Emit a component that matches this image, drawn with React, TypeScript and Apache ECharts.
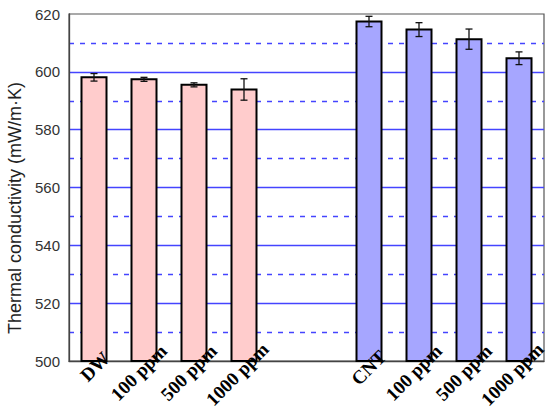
import React, { useEffect, useRef } from "react";
import * as echarts from "echarts";

const dwLabels = ["DW", "100 ppm", "500 ppm", "1000 ppm"];
const dwMeans = [598.1, 597.4, 595.5, 593.9];
const dwErrors = [1.3, 0.7, 0.7, 3.7];

const cntLabels = ["CNT", "100 ppm", "500 ppm", "1000 ppm"];
const cntMeans = [617.4, 614.6, 611.3, 604.7];
const cntErrors = [1.8, 2.4, 3.5, 2.2];

const yMin = 500;
const yMax = 620;
const yStep = 20;
const yTitle = "Thermal conductivity (mW/m·K)";

const groupColors = ["#ffcccc", "#a6a6ff"];
const labelFont = 'bold 19px "Liberation Serif", "Times New Roman", serif';

export default function App() {
  const ref = useRef<HTMLDivElement>(null);
  useEffect(() => {
    if (!ref.current) return;
    const chart = echarts.init(ref.current, null, { renderer: "svg" });
    const labels = [...dwLabels, ...cntLabels];
    const data: number[][] = [];
    dwMeans.forEach((m, i) => data.push([i + 1, m, dwErrors[i], 0]));
    cntMeans.forEach((m, i) => data.push([i + 6.5, m, cntErrors[i], 1]));

    const titleGraphic = {
      type: "text",
      x: 15,
      y: 208,
      rotation: Math.PI / 2,
      style: {
        text: yTitle,
        textAlign: "center",
        textVerticalAlign: "middle",
        fontSize: 18,
        fontFamily: "Liberation Sans, Arial, sans-serif",
        fill: "#222",
      },
    };

    const option: any = {
      animation: false,
      grid: {
        left: 69,
        right: 6,
        top: 14,
        bottom: 51,
        show: true,
        borderColor: "#555",
        borderWidth: 1.2,
      },
      xAxis: {
        type: "value",
        min: 0.5,
        max: 10,
        axisLine: { show: true, onZero: false, lineStyle: { color: "#444", width: 1.3 } },
        axisTick: { show: false },
        axisLabel: { show: false },
        splitLine: { show: false },
      },
      yAxis: {
        type: "value",
        min: yMin,
        max: yMax,
        interval: yStep,
        axisLine: { show: true, lineStyle: { color: "#444", width: 1.3 } },
        axisTick: { show: false },
        axisLabel: {
          color: "#333",
          fontSize: 15,
          fontFamily: "Liberation Sans, Arial, sans-serif",
          margin: 9,
        },
        splitLine: {
          show: true,
          showMinLine: false,
          showMaxLine: false,
          lineStyle: { color: "#4444ff", width: 1.3 },
        },
        minorTick: { show: false, splitNumber: 2 },
        minorSplitLine: {
          show: true,
          lineStyle: { color: "#4444ff", width: 1.3, type: [5, 6] },
        },
      },
      graphic: [titleGraphic],
      series: [
        {
          type: "custom",
          clip: false,
          data,
          encode: { x: 0, y: 1 },
          renderItem: (params: any, api: any) => {
            const x = api.value(0);
            const v = api.value(1);
            const e = api.value(2);
            const g = api.value(3);
            const top = api.coord([x, v]);
            const base = api.coord([x, yMin]);
            const w = api.size([0.5, 0])[0];
            const eTop = api.coord([x, v + e]);
            const eBot = api.coord([x, v - e]);
            const cap = 3.5;
            return {
              type: "group",
              children: [
                {
                  type: "rect",
                  shape: { x: top[0] - w / 2, y: top[1], width: w, height: base[1] - top[1] },
                  style: { fill: groupColors[g], stroke: "#000", lineWidth: 2 },
                },
                {
                  type: "line",
                  shape: { x1: top[0], y1: eTop[1], x2: top[0], y2: eBot[1] },
                  style: { stroke: "#111", lineWidth: 1.3 },
                },
                {
                  type: "line",
                  shape: { x1: top[0] - cap, y1: eTop[1], x2: top[0] + cap, y2: eTop[1] },
                  style: { stroke: "#111", lineWidth: 1.3 },
                },
                {
                  type: "line",
                  shape: { x1: top[0] - cap, y1: eBot[1], x2: top[0] + cap, y2: eBot[1] },
                  style: { stroke: "#111", lineWidth: 1.3 },
                },
              ],
            };
          },
        },
      ],
    };
    chart.setOption(option);

    const ctx = document.createElement("canvas").getContext("2d");
    if (ctx) ctx.font = labelFont;
    const k = Math.SQRT1_2;
    const labelGraphics = data.map((d, i) => {
      const p = chart.convertToPixel({ gridIndex: 0 }, [d[0], yMin]) as number[];
      const tw = ctx ? ctx.measureText(labels[i]).width : 60;
      const ax = p[0] + 6.2;
      const ay = p[1] + 0.2;
      const shift = 0.27 * tw;
      return {
        type: "text",
        x: ax + shift * k,
        y: ay - shift * k,
        rotation: Math.PI / 4,
        z: 10,
        style: {
          text: labels[i],
          textAlign: "right",
          textVerticalAlign: "middle",
          font: labelFont,
          fill: "#000",
        },
      };
    });
    chart.setOption({ graphic: [titleGraphic, ...labelGraphics] }, { replaceMerge: ["graphic"] });
    return () => chart.dispose();
  }, []);
  return <div ref={ref} style={{ width: 550, height: 412, position: "absolute", left: 0, top: 0 }} />;
}
